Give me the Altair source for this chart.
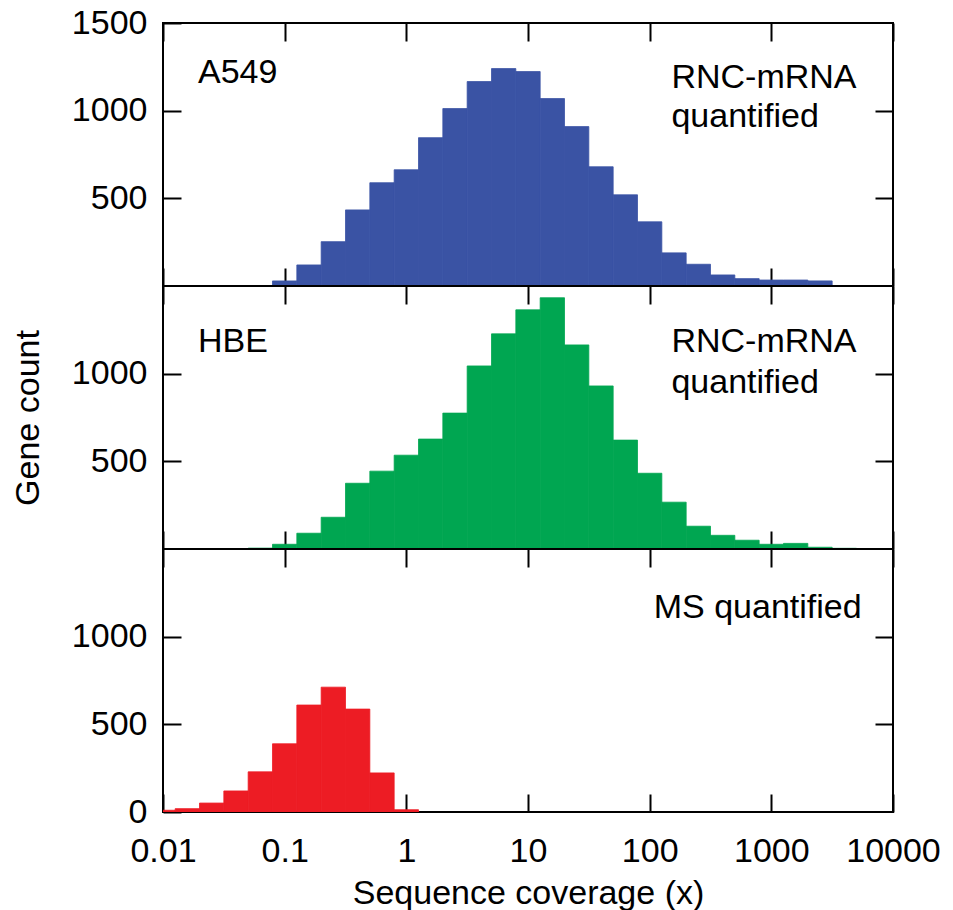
import altair as alt
import pandas as pd

FONT = "Liberation Sans"

# bin centres in log10(coverage); each bin spans +-0.1 decade
a549_centers = [-1.0, -0.8, -0.6, -0.4, -0.2, 0.0, 0.2, 0.4, 0.6, 0.8, 1.0, 1.2,
                1.4, 1.6, 1.8, 2.0, 2.2, 2.4, 2.6, 2.8, 3.0, 3.2, 3.4]
a549_counts = [29, 120, 253, 434, 589, 663, 846, 1012, 1166, 1240, 1223, 1069,
               909, 680, 520, 366, 189, 124, 63, 42, 34, 34, 29]

hbe_centers = [-1.2, -1.0, -0.8, -0.6, -0.4, -0.2, 0.0, 0.2, 0.4, 0.6, 0.8, 1.0,
               1.2, 1.4, 1.6, 1.8, 2.0, 2.2, 2.4, 2.6, 2.8, 3.0, 3.2, 3.4, 3.6]
hbe_counts = [5, 27, 90, 181, 375, 444, 535, 627, 775, 1044, 1227, 1364,
              1433, 1164, 930, 621, 432, 267, 130, 78, 50, 27, 32, 10, 4]

ms_centers = [-2.0, -1.8, -1.6, -1.4, -1.2, -1.0, -0.8, -0.6, -0.4, -0.2, 0.0]
ms_counts = [10, 19, 51, 120, 229, 389, 610, 712, 587, 223, 13]

x_ticks = [0.01, 0.1, 1, 10, 100, 1000, 10000]

BLUE = "#3A53A4"
GREEN = "#00A651"
RED = "#ED1C24"

W, H = 730, 263
x_scale = alt.Scale(type="log", domain=[0.01, 10000], nice=False)
y_scale = alt.Scale(domain=[0, 1500], nice=False)


def make_df(centers, counts):
    return pd.DataFrame({
        "lo": [10 ** (c - 0.1) for c in centers],
        "hi": [10 ** (c + 0.1) for c in centers],
        "count": counts,
    })


def panel(df, color, yvals, labels_df, show_x, ytitle):
    xax = dict(orient="bottom", offset=-18, tickSize=18, values=x_ticks,
               domain=False, grid=False, labels=show_x, format="~g",
               labelPadding=22, titlePadding=8, labelFlush=False,
               labelOverlap=False, labelBound=False)
    xax["title"] = "Sequence coverage (x)" if show_x else None
    yax = dict(orient="left", offset=-18, tickSize=18, values=yvals,
               domain=False, grid=False, format="d", labelPadding=16,
               titlePadding=26, labelFlush=False, labelOverlap=False)
    yax["title"] = ytitle if ytitle else None

    bars = alt.Chart(df).mark_rect(
        color=color, stroke=color, strokeWidth=0.8, clip=True
    ).encode(
        x=alt.X("lo:Q", scale=x_scale, axis=alt.Axis(**xax)),
        x2="hi:Q",
        y=alt.Y("count:Q", scale=y_scale, axis=alt.Axis(**yax)),
        y2=alt.datum(0),
    )
    ticks = alt.Chart(df).mark_point(opacity=0).encode(
        x=alt.X("lo:Q", scale=x_scale,
                axis=alt.Axis(orient="top", offset=-18, tickSize=18,
                              values=x_ticks, labels=False, domain=False,
                              grid=False, title=None)),
        y=alt.Y("count:Q", scale=y_scale,
                axis=alt.Axis(orient="right", offset=-18, tickSize=18,
                              values=[500, 1000], labels=False, domain=False,
                              grid=False, title=None)),
    )
    text = alt.Chart(labels_df).mark_text(
        align="left", baseline="alphabetic", fontSize=34, font=FONT, color="black"
    ).encode(
        x=alt.X("tx:Q", scale=x_scale, axis=None),
        y=alt.Y("ty:Q", scale=y_scale, axis=None),
        text="label:N",
    )
    return alt.layer(bars, ticks, text).resolve_axis(
        x="independent", y="independent"
    ).properties(width=W, height=H)


top_labels = pd.DataFrame({
    "tx": [0.0194, 151, 151],
    "ty": [1158, 1131, 907],
    "label": ["A549", "RNC-mRNA", "quantified"],
})
mid_labels = pd.DataFrame({
    "tx": [0.0194, 151, 151],
    "ty": [1124, 1124, 892],
    "label": ["HBE", "RNC-mRNA", "quantified"],
})
bot_labels = pd.DataFrame({
    "tx": [108],
    "ty": [1107],
    "label": ["MS quantified"],
})

p1 = panel(make_df(a549_centers, a549_counts), BLUE, [500, 1000, 1500], top_labels, False, None)
p2 = panel(make_df(hbe_centers, hbe_counts), GREEN, [500, 1000], mid_labels, False, "Gene count")
p3 = panel(make_df(ms_centers, ms_counts), RED, [0, 500, 1000], bot_labels, True, None)

chart = alt.vconcat(p1, p2, p3, spacing=0, bounds="flush").properties(
    padding={"left": 10, "top": 5, "right": 10, "bottom": 5},
    background="white",
).configure_view(
    stroke="black", strokeWidth=2
).configure_axis(
    labelFont=FONT, titleFont=FONT, labelFontSize=34, titleFontSize=34,
    labelColor="black", titleColor="black", tickColor="black", tickWidth=2,
    titleFontWeight="normal",
)

chart.save("out.html", embed_options={"renderer": "svg", "actions": False})
